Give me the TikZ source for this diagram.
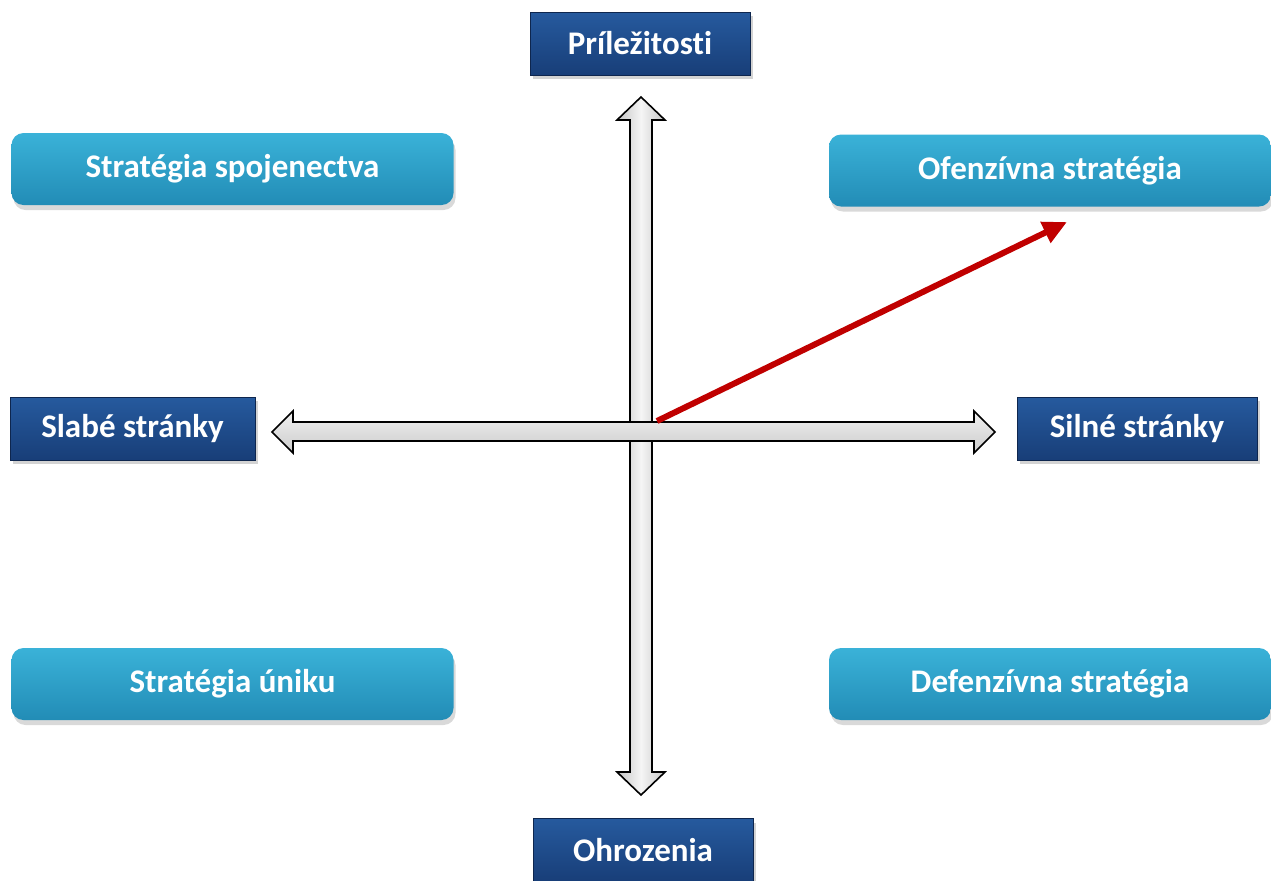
\documentclass[tikz,border=0pt]{standalone}
\usepackage{fontspec}
\setmainfont{Carlito}[Ligatures=NoCommon]
\usetikzlibrary{arrows.meta,shadows}
\definecolor{navytop}{RGB}{38,90,158}
\definecolor{navybot}{RGB}{24,62,120}
\definecolor{navyedge}{RGB}{14,38,78}
\definecolor{tealtop}{RGB}{58,178,216}
\definecolor{tealbot}{RGB}{34,140,182}
\definecolor{offred}{RGB}{192,0,0}

\begin{document}
\begin{tikzpicture}[x=0.5pt,y=-0.5pt,
    navy/.style={draw=navyedge, rectangle, top color=navytop, bottom color=navybot, minimum height=31.5pt, inner sep=0pt, text=white, font=\bfseries\fontsize{16.5}{18}\selectfont, drop shadow={opacity=0.35, shadow xshift=1.5pt, shadow yshift=-2pt}},
    tealbox/.style={draw=none, rectangle, rounded corners=6pt, top color=tealtop, bottom color=tealbot, minimum width=221pt, minimum height=36pt, inner sep=0pt, text=white, font=\bfseries\fontsize{16.5}{18}\selectfont, drop shadow={opacity=0.3, shadow xshift=1pt, shadow yshift=-2.5pt}},
    axis/.style={draw=black, line width=0.8pt, line join=miter}]
    \useasboundingbox (0,0) rectangle (1271,880);

    % Axes
    \draw[axis, left color=gray!45, right color=gray!45, middle color=gray!8]
        (641,97) -- (665,120) -- (652,120) -- (652,772) -- (665,772) -- (641,795)
        -- (617,772) -- (630,772) -- (630,120) -- (617,120) -- cycle;
    \draw[axis, top color=gray!12, bottom color=gray!40]
        (272,432) -- (293,411) -- (293,422) -- (974,422) -- (974,411) -- (995,432)
        -- (974,453) -- (974,441) -- (293,441) -- (293,453) -- cycle;

    % Top and bottom
    \node[navy, minimum width=110pt] (opp) at (640,43.5) {Príležitosti};
    \node[navy, minimum width=110pt] (threat) at (643,850) {Ohrozenia};

    % Middle row
    \node[navy, minimum width=122.5pt] (weak) at (132.5,428.5) {Slabé stránky};
    \node[navy, minimum width=120pt] (strong) at (1137,428.5) {Silné stránky};

    % Strategies
    \node[tealbox] (alliance) at (232.5,169) {Stratégia spojenectva};
    \node[tealbox] (offense) at (1050,170.5) {Ofenzívna stratégia};
    \node[tealbox] (escape) at (232.5,684) {Stratégia úniku};
    \node[tealbox] (defense) at (1050,684) {Defenzívna stratégia};

    % Red arrow
    \coordinate (origin) at (657,421);
    \coordinate (target) at (1067,222);
    \draw[offred, line width=3pt, -{Triangle[length=12pt,width=11pt]}] (origin) -- (target);

\end{tikzpicture}
\end{document}
